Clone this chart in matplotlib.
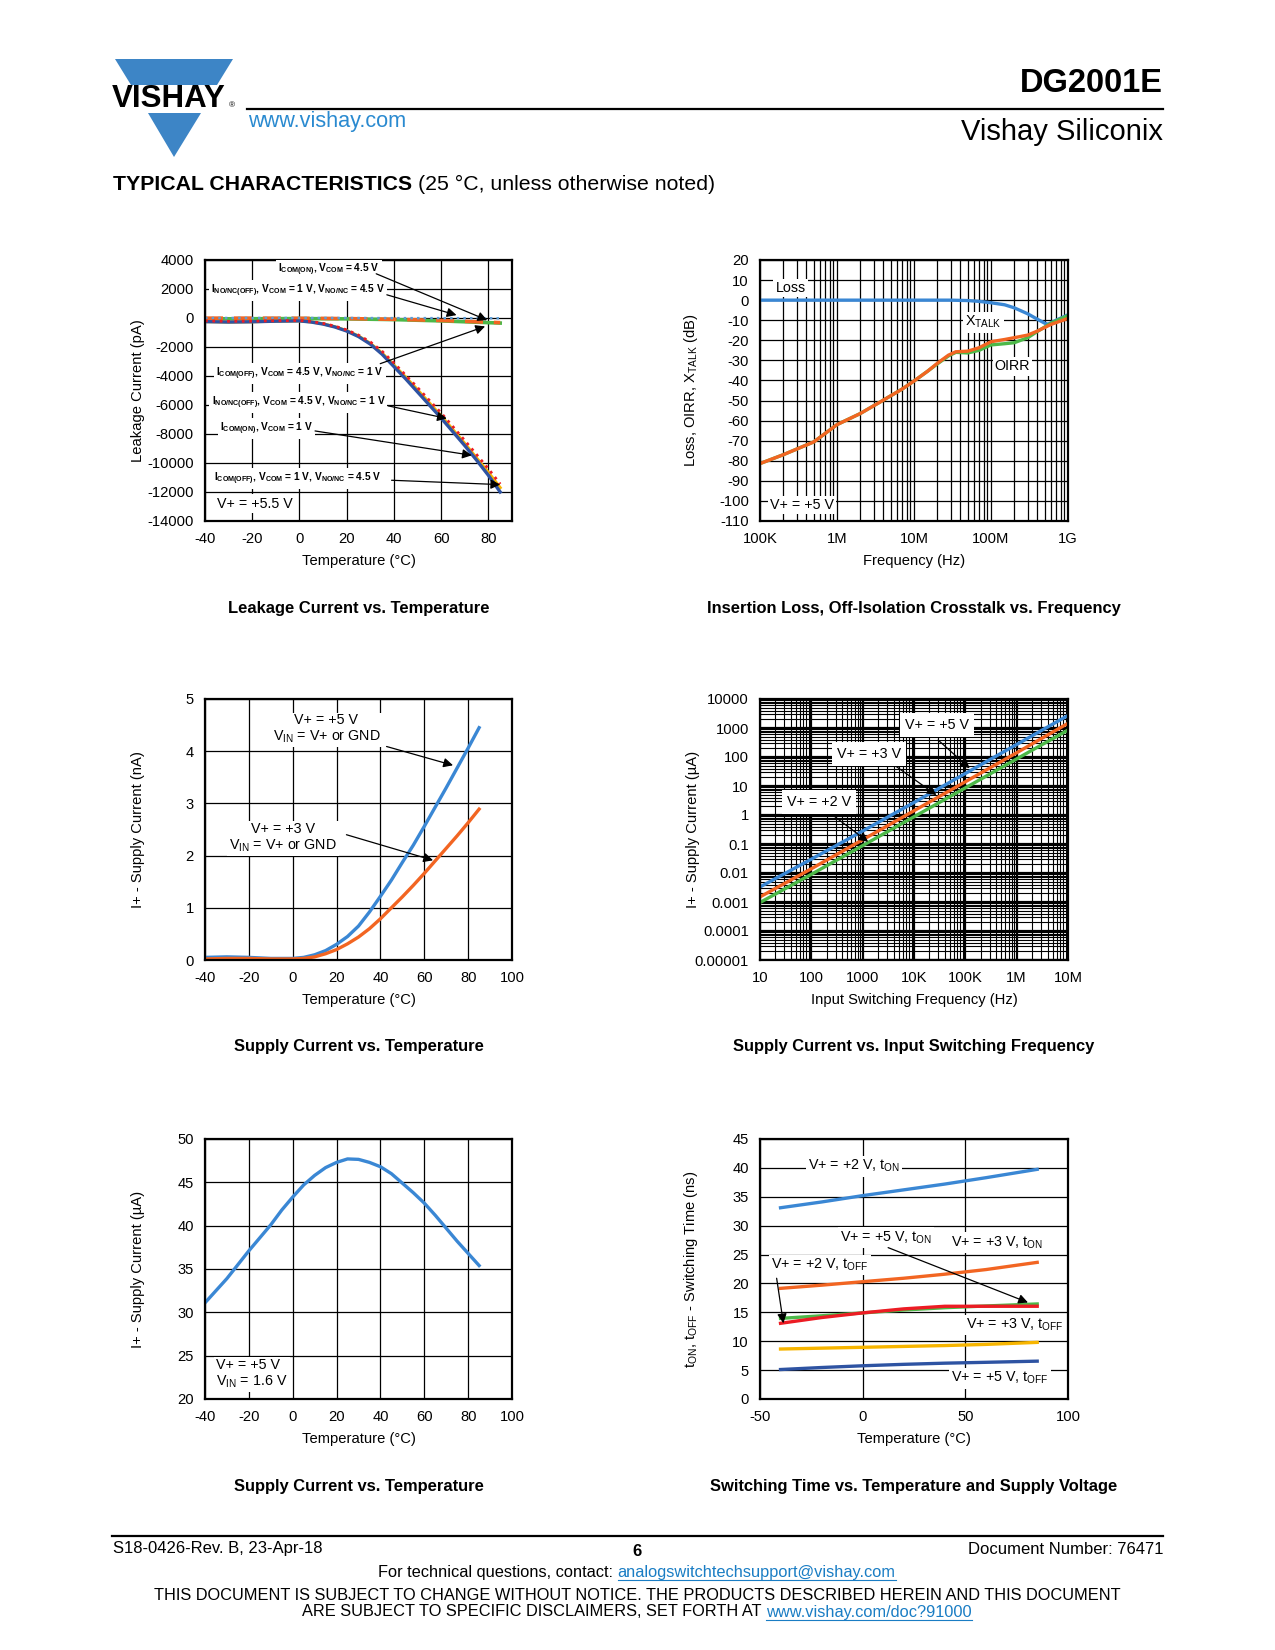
import matplotlib.pyplot as plt
from matplotlib.patches import Polygon
from matplotlib.ticker import LogLocator, FixedLocator, FixedFormatter, NullFormatter

plt.rcParams['font.family'] = ['Liberation Sans', 'DejaVu Sans']
plt.rcParams['mathtext.fontset'] = 'custom'
plt.rcParams['mathtext.rm'] = 'Liberation Sans'
plt.rcParams['mathtext.it'] = 'Liberation Sans:italic'
plt.rcParams['mathtext.bf'] = 'Liberation Sans:bold'
plt.rcParams['axes.unicode_minus'] = False

W, H = 1275, 1650

# cores
AZUL = '#3a87d4'
LARANJA = '#f26522'
VERDE = '#4cb848'
VERMELHO = '#ec1c24'
AMARELO = '#f7b500'
AZUL_ESCURO = '#2e53a2'
LINK = '#1a7dc4'

# ---------------- dados ----------------
# Leakage current vs temperature (pA)
temp_fuga = [-40, -30, -20, -10, 0, 5, 10, 15, 20, 25, 30, 35, 40, 45, 50, 55, 60, 65, 70, 75, 80, 85]
fuga_azul_escuro = [-250, -280, -260, -220, -200, -280, -420, -620, -900, -1280, -1800, -2500, -3350,
                    -4200, -5100, -6000, -6900, -7850, -8800, -9800, -10850, -12000]
fuga_amarelo = [-250, -280, -260, -220, -200, -270, -400, -600, -870, -1240, -1750, -2420, -3250,
                -4080, -4950, -5850, -6750, -7700, -8650, -9650, -10650, -11700]
fuga_vermelho = [-200, -230, -220, -190, -170, -240, -370, -560, -820, -1180, -1650, -2300, -3100,
                 -3950, -4800, -5680, -6550, -7500, -8450, -9420, -10400, -11450]
temp_fuga_plana = [-40, -20, 0, 20, 40, 60, 85]
fuga_verde = [-60, -50, -40, -60, -110, -200, -350]
fuga_laranja = [-10, -10, -20, -40, -90, -170, -320]
fuga_azul = [0, 0, 0, 0, -10, -10, -20]

# Insertion loss / crosstalk vs frequency (dB)
freq_perda = [1e5, 1e6, 1e7, 3e7, 5e7, 7e7, 1e8, 1.5e8, 2e8, 3e8, 4e8, 5e8, 5.5e8, 7e8, 1e9]
perda = [0, 0, 0, 0, -0.2, -0.6, -1.3, -2.3, -3.8, -6.8, -9.5, -11.5, -12, -10, -7.3]
freq_iso = [1e5, 2e5, 5e5, 1e6, 2e6, 4e6, 7e6, 1e7, 1.5e7, 2e7, 2.8e7, 3.5e7, 5e7, 7e7,
            1e8, 1.5e8, 2e8, 3e8, 4e8, 6e8, 1e9]
oirr = [-81.4, -77, -70.6, -62, -56.5, -49.8, -44.3, -40.3, -35.4, -31.5, -27.4, -25.7, -25.4, -23.7,
        -20.7, -19.6, -18.7, -17.4, -15.4, -12.1, -9.1]
xtalk = [-81.4, -77, -70.6, -62, -56.5, -49.8, -44.3, -40.3, -35.4, -31.8, -27.8, -26, -26.3, -25,
         -22.3, -21.7, -21.2, -18.7, -15.6, -11.5, -7.7]

# Supply current vs temperature (nA)
temp_ic = [-40, -30, -20, -10, 0, 5, 10, 15, 20, 25, 30, 35, 40, 45, 50, 55, 60, 65, 70, 75, 80, 85]
ic_5v = [0.05, 0.06, 0.05, 0.03, 0.03, 0.05, 0.1, 0.18, 0.3, 0.45, 0.65, 0.92, 1.22, 1.53, 1.87,
         2.2, 2.56, 2.93, 3.3, 3.68, 4.06, 4.45]
ic_3v = [0.02, 0.03, 0.03, 0.02, 0.02, 0.03, 0.06, 0.12, 0.2, 0.31, 0.44, 0.6, 0.79, 1.0, 1.21,
         1.43, 1.66, 1.9, 2.14, 2.38, 2.63, 2.89]

# Supply current vs input switching frequency (uA)
freq_sw = [10, 100, 1e3, 1e4, 1e5, 1e6, 1e7]
isw_5v = [0.0033, 0.030, 0.28, 2.7, 27, 270, 2700]
isw_3v = [0.0015, 0.014, 0.14, 1.4, 14, 140, 1450]
isw_2v = [0.00096, 0.0090, 0.088, 0.87, 8.6, 86, 850]

# Supply current vs temperature (uA)
temp_i = [-40, -35, -30, -25, -20, -15, -10, -5, 0, 5, 10, 15, 20, 25, 30, 35, 40, 45, 50, 55,
          60, 65, 70, 75, 80, 85]
i_temp = [31.1, 32.5, 33.9, 35.5, 37.1, 38.6, 40.1, 41.8, 43.3, 44.7, 45.8, 46.7, 47.3, 47.7,
          47.65, 47.3, 46.8, 46.0, 44.9, 43.8, 42.6, 41.2, 39.7, 38.2, 36.8, 35.4]

# Switching time vs temperature (ns)
temp_t = [-40, -20, 0, 20, 40, 60, 85]
ton_2v = [33.1, 34.1, 35.2, 36.2, 37.2, 38.3, 39.75]
ton_3v = [19.15, 19.7, 20.3, 20.9, 21.6, 22.4, 23.65]
ton_5v = [13.95, 14.4, 14.9, 15.4, 15.8, 16.1, 16.45]
toff_2v = [13.1, 14.1, 14.9, 15.6, 16.05, 16.05, 16.05]
toff_3v = [8.65, 8.8, 8.95, 9.1, 9.25, 9.45, 9.8]
toff_5v = [5.1, 5.45, 5.75, 6.0, 6.2, 6.35, 6.55]

# ---------------- figura ----------------
fig = plt.figure(figsize=(W / 100, H / 100), dpi=100)
fundo = fig.add_axes([0, 0, 1, 1])
fundo.set_xlim(0, W)
fundo.set_ylim(H, 0)
fundo.axis('off')

# logo
fundo.add_patch(Polygon([[115, 59], [233, 59], [217, 85], [131, 85]], closed=True, color='#3d85c6', lw=0))
fundo.add_patch(Polygon([[148, 113], [201, 113], [174, 157]], closed=True, color='#3d85c6', lw=0))
fundo.text(112, 99, 'VISHAY', fontsize=22.5, fontweight='bold', va='center', ha='left')
fundo.text(229, 106, '®', fontsize=6, va='center', ha='left')

# cabecalho
fundo.plot([247, 1163], [109, 109], color='k', lw=1.6)
fundo.text(1163, 84, 'DG2001E', fontsize=23.5, fontweight='bold', ha='right', va='center')
fundo.text(1163, 132, 'Vishay Siliconix', fontsize=21, ha='right', va='center')
fundo.text(248, 122, 'www.vishay.com', fontsize=15.6, color='#2a8ad0', ha='left', va='center')

fig.canvas.draw()
rend = fig.canvas.get_renderer()


def partes_texto(partes, x, y, size, centro=False):
    textos = []
    for s, cor, peso, sublinhado in partes:
        t = fundo.text(0, y, s, color=cor, fontsize=size, fontweight=peso, va='center', ha='left')
        textos.append((t, cor, sublinhado))
    larg = [t.get_window_extent(rend).width for t, _, _ in textos]
    if centro:
        x = x - sum(larg) / 2
    for (t, cor, sub), w in zip(textos, larg):
        t.set_x(x)
        if sub:
            fundo.plot([x, x + w], [y + 8, y + 8], color=cor, lw=0.8)
        x += w


partes_texto([('TYPICAL CHARACTERISTICS ', 'k', 'bold', False),
              ('(25 °C, unless otherwise noted)', 'k', 'normal', False)], 113, 184, 15.3)

# rodape
fundo.plot([112, 1163], [1536, 1536], color='k', lw=1.6)
fundo.text(113, 1549, 'S18-0426-Rev. B, 23-Apr-18', fontsize=12, va='center', ha='left')
fundo.text(637, 1551, '6', fontsize=12, fontweight='bold', va='center', ha='center')
fundo.text(1163, 1549, 'Document Number: 76471', fontsize=12, va='center', ha='right')
partes_texto([('For technical questions, contact: ', 'k', 'normal', False),
              ('analogswitchtechsupport@vishay.com', LINK, 'normal', True)], 637, 1572, 11.8, centro=True)
fundo.text(637, 1595, 'THIS DOCUMENT IS SUBJECT TO CHANGE WITHOUT NOTICE. THE PRODUCTS DESCRIBED HEREIN AND THIS DOCUMENT',
           fontsize=11.8, va='center', ha='center')
partes_texto([('ARE SUBJECT TO SPECIFIC DISCLAIMERS, SET FORTH AT ', 'k', 'normal', False),
              ('www.vishay.com/doc?91000', LINK, 'normal', True)], 637, 1612, 11.8, centro=True)


def eixo(x0, y0, x1, y1, titulo, legenda_y, legenda_x):
    ax = fig.add_axes([x0 / W, 1 - y1 / H, (x1 - x0) / W, (y1 - y0) / H])
    for s in ax.spines.values():
        s.set_linewidth(1.6)
    ax.tick_params(which='both', length=0, labelsize=10.6, pad=8)
    ax.set_axisbelow(True)
    ax.set_ylabel(legenda_y, fontsize=10.6)
    ax.set_xlabel(legenda_x, fontsize=10.6)
    ax.yaxis.set_label_coords(-0.195, 0.5)
    ax.xaxis.set_label_coords(0.5, -0.125)
    fundo.text((x0 + x1) / 2, y1 + 87, titulo, fontsize=11.9, fontweight='bold', ha='center', va='center')
    return ax


seta = dict(arrowstyle='-|>', color='k', lw=0.9, mutation_scale=14, shrinkA=0, shrinkB=0)
caixa = dict(fc='white', ec='none', pad=1.5)

# ---- 1: Leakage current ----
ax1 = eixo(205, 260, 512, 521, 'Leakage Current vs. Temperature', 'Leakage Current (pA)', 'Temperature (°C)')
ax1.set_xlim(-40, 90)
ax1.set_ylim(-14000, 4000)
ax1.set_xticks(range(-40, 81, 20))
ax1.set_yticks(range(-14000, 4001, 2000))
ax1.grid(True, color='k', lw=0.9)
ax1.plot(temp_fuga_plana, fuga_verde, color=VERDE, lw=2.6)
ax1.plot(temp_fuga_plana, fuga_laranja, color=LARANJA, lw=2.6, ls=(0, (5, 3)))
ax1.plot(temp_fuga_plana, fuga_azul, color='#5b9bd5', lw=1.8, ls=':')
ax1.plot(temp_fuga, fuga_amarelo, color=AMARELO, lw=2.2)
ax1.plot(temp_fuga, fuga_azul_escuro, color=AZUL_ESCURO, lw=2.4)
ax1.plot(temp_fuga, fuga_vermelho, color=VERMELHO, lw=2, ls=':')
p = dict(fontsize=7.3, fontweight='bold', va='center', ha='left', bbox=caixa, zorder=4)
ax1.text(-9, 3310, r'I$_{\mathbf{COM(ON)}}$, V$_{\mathbf{COM}}$ = 4.5 V', **p)
ax1.text(-37.6, 1880, r'I$_{\mathbf{NO/NC(OFF)}}$, V$_{\mathbf{COM}}$ = 1 V, V$_{\mathbf{NO/NC}}$ = 4.5 V', **p)
ax1.text(-35.3, -3830, r'I$_{\mathbf{COM(OFF)}}$, V$_{\mathbf{COM}}$ = 4.5 V, V$_{\mathbf{NO/NC}}$ = 1 V', **p)
ax1.text(-37.2, -5830, r'I$_{\mathbf{NO/NC(OFF)}}$, V$_{\mathbf{COM}}$ = 4.5 V, V$_{\mathbf{NO/NC}}$ = 1 V', **p)
ax1.text(-33.6, -7625, r'I$_{\mathbf{COM(ON)}}$, V$_{\mathbf{COM}}$ = 1 V', **p)
ax1.text(-36.2, -11080, r'I$_{\mathbf{COM(OFF)}}$, V$_{\mathbf{COM}}$ = 1 V, V$_{\mathbf{NO/NC}}$ = 4.5 V', **p)
ax1.annotate('', xy=(79.5, -150), xytext=(32.5, 3050), arrowprops=seta, zorder=5)
ax1.annotate('', xy=(66.5, 200), xytext=(37, 1600), arrowprops=seta, zorder=5)
ax1.annotate('', xy=(78.6, -580), xytext=(34.2, -3150), arrowprops=seta, zorder=5)
ax1.annotate('', xy=(62.4, -6930), xytext=(37.6, -6060), arrowprops=seta, zorder=5)
ax1.annotate('', xy=(73, -9470), xytext=(6.6, -7790), arrowprops=seta, zorder=5)
ax1.annotate('', xy=(85, -11490), xytext=(39, -11190), arrowprops=seta, zorder=5)
ax1.text(-35, -12800, 'V+ = +5.5 V', fontsize=10.3, va='center', ha='left', bbox=caixa, zorder=4)

# ---- 2: Insertion loss ----
ax2 = eixo(760, 260, 1068, 521, 'Insertion Loss, Off-Isolation Crosstalk vs. Frequency',
           r'Loss, OIRR, X$_{\mathrm{TALK}}$ (dB)', 'Frequency (Hz)')
ax2.set_xscale('log')
ax2.set_xlim(1e5, 1e9)
ax2.set_ylim(-110, 20)
ax2.set_yticks(range(-110, 21, 10))
ax2.xaxis.set_major_locator(FixedLocator([1e5, 1e6, 1e7, 1e8, 1e9]))
ax2.xaxis.set_major_formatter(FixedFormatter(['100K', '1M', '10M', '100M', '1G']))
ax2.xaxis.set_minor_locator(LogLocator(base=10, subs=range(2, 10)))
ax2.xaxis.set_minor_formatter(NullFormatter())
ax2.grid(True, which='both', axis='x', color='k', lw=0.9)
ax2.grid(True, which='major', axis='y', color='k', lw=0.9)
ax2.plot(freq_perda, perda, color=AZUL, lw=2.4)
ax2.plot(freq_iso, xtalk, color=VERDE, lw=2.4)
ax2.plot(freq_iso, oirr, color=LARANJA, lw=2.4)
ax2.text(10 ** 5.2, 6, 'Loss', fontsize=10.3, va='center', ha='left', bbox=caixa)
ax2.text(10 ** 7.66, -11, r'X$_{\mathrm{TALK}}$', fontsize=10.3, va='center', ha='left', bbox=caixa)
ax2.text(10 ** 8.05, -33, 'OIRR', fontsize=10.3, va='center', ha='left', bbox=caixa)
ax2.text(10 ** 5.13, -102, 'V+ = +5 V', fontsize=10.3, va='center', ha='left', bbox=caixa)

# ---- 3: Supply current (nA) ----
ax3 = eixo(205, 699, 512, 960, 'Supply Current vs. Temperature', 'I+ - Supply Current (nA)', 'Temperature (°C)')
ax3.set_xlim(-40, 100)
ax3.set_ylim(0, 5)
ax3.set_xticks(range(-40, 101, 20))
ax3.grid(True, color='k', lw=0.9)
ax3.plot(temp_ic, ic_5v, color=AZUL, lw=2.4)
ax3.plot(temp_ic, ic_3v, color=LARANJA, lw=2.4)
q = dict(fontsize=10.3, va='center', ha='center', bbox=caixa, zorder=4, linespacing=1.1)
ax3.text(15.4, 4.42, 'V+ = +5 V\n' + r'V$_{\mathrm{IN}}$ = V+ or GND', **q)
ax3.text(-4.3, 2.34, 'V+ = +3 V\n' + r'V$_{\mathrm{IN}}$ = V+ or GND', **q)
ax3.annotate('', xy=(73.1, 3.73), xytext=(42.8, 4.09), arrowprops=seta, zorder=5)
ax3.annotate('', xy=(64, 1.91), xytext=(24.5, 2.40), arrowprops=seta, zorder=5)

# ---- 4: Supply current vs switching frequency ----
ax4 = eixo(760, 699, 1068, 960, 'Supply Current vs. Input Switching Frequency',
           'I+ - Supply Current (µA)', 'Input Switching Frequency (Hz)')
ax4.set_xscale('log')
ax4.set_yscale('log')
ax4.set_xlim(10, 1e7)
ax4.set_ylim(1e-5, 1e4)
ax4.xaxis.set_major_locator(FixedLocator(freq_sw))
ax4.xaxis.set_major_formatter(FixedFormatter(['10', '100', '1000', '10K', '100K', '1M', '10M']))
ytk = [1e-5, 1e-4, 1e-3, 1e-2, 1e-1, 1, 10, 100, 1e3, 1e4]
ax4.yaxis.set_major_locator(FixedLocator(ytk))
ax4.yaxis.set_major_formatter(FixedFormatter(['0.00001', '0.0001', '0.001', '0.01', '0.1', '1', '10',
                                              '100', '1000', '10000']))
for eixo_ in (ax4.xaxis, ax4.yaxis):
    eixo_.set_minor_locator(LogLocator(base=10, subs=range(2, 10), numticks=20))
    eixo_.set_minor_formatter(NullFormatter())
ax4.grid(True, which='major', color='k', lw=1.6)
ax4.grid(True, which='minor', color='k', lw=0.8)
ax4.plot(freq_sw, isw_2v, color=VERDE, lw=2.4)
ax4.plot(freq_sw, isw_3v, color=LARANJA, lw=2.4)
ax4.plot(freq_sw, isw_5v, color=AZUL, lw=2.4)
b4 = dict(fc='white', ec='none', pad=3.5)
ax4.text(10 ** 3.82, 10 ** 3.1, 'V+ = +5 V', fontsize=10.3, va='center', ha='left', bbox=b4, zorder=4)
ax4.text(10 ** 2.5, 10 ** 2.1, 'V+ = +3 V', fontsize=10.3, va='center', ha='left', bbox=b4, zorder=4)
ax4.text(10 ** 1.52, 10 ** 0.456, 'V+ = +2 V', fontsize=10.3, va='center', ha='left', bbox=b4, zorder=4)
ax4.annotate('', xy=(10 ** 5.085, 10 ** 1.61), xytext=(10 ** 4.47, 10 ** 2.585), arrowprops=seta, zorder=5)
ax4.annotate('', xy=(10 ** 4.437, 10 ** 0.686), xytext=(10 ** 3.66, 10 ** 1.664), arrowprops=seta, zorder=5)
ax4.annotate('', xy=(10 ** 3.107, 10 ** -0.925), xytext=(10 ** 2.459, 10 ** -0.06), arrowprops=seta, zorder=5)

# ---- 5: Supply current (uA) vs temperature ----
ax5 = eixo(205, 1139, 512, 1399, 'Supply Current vs. Temperature', 'I+ - Supply Current (µA)', 'Temperature (°C)')
ax5.set_xlim(-40, 100)
ax5.set_ylim(20, 50)
ax5.set_xticks(range(-40, 101, 20))
ax5.set_yticks(range(20, 51, 5))
ax5.grid(True, color='k', lw=0.9)
ax5.plot(temp_i, i_temp, color=AZUL, lw=2.4)
ax5.text(-35, 22.9, 'V+ = +5 V\n' + r'V$_{\mathrm{IN}}$ = 1.6 V', fontsize=10.3, va='center', ha='left',
         linespacing=1.1, bbox=caixa, zorder=4)

# ---- 6: Switching time ----
ax6 = eixo(760, 1139, 1068, 1399, 'Switching Time vs. Temperature and Supply Voltage',
           r't$_{\mathrm{ON}}$, t$_{\mathrm{OFF}}$ - Switching Time (ns)', 'Temperature (°C)')
ax6.set_xlim(-50, 100)
ax6.set_ylim(0, 45)
ax6.set_xticks([-50, 0, 50, 100])
ax6.set_yticks(range(0, 46, 5))
ax6.grid(True, color='k', lw=0.9)
ax6.plot(temp_t, ton_2v, color=AZUL, lw=2.4)
ax6.plot(temp_t, ton_3v, color=LARANJA, lw=2.4)
ax6.plot(temp_t, ton_5v, color=VERDE, lw=2.4)
ax6.plot(temp_t, toff_2v, color=VERMELHO, lw=2.4)
ax6.plot(temp_t, toff_3v, color=AMARELO, lw=2.4)
ax6.plot(temp_t, toff_5v, color=AZUL_ESCURO, lw=2.4)
r6 = dict(fontsize=10.3, va='center', ha='left', bbox=caixa, zorder=4)
ax6.text(-26.5, 40.3, r'V+ = +2 V, t$_{\mathrm{ON}}$', **r6)
ax6.text(-11.1, 27.9, r'V+ = +5 V, t$_{\mathrm{ON}}$', **r6)
ax6.text(43.2, 27.1, r'V+ = +3 V, t$_{\mathrm{ON}}$', **r6)
ax6.text(-44.6, 23.2, r'V+ = +2 V, t$_{\mathrm{OFF}}$', **r6)
ax6.text(50.5, 12.8, r'V+ = +3 V, t$_{\mathrm{OFF}}$', **r6)
ax6.text(43.2, 3.6, r'V+ = +5 V, t$_{\mathrm{OFF}}$', **r6)
ax6.annotate('', xy=(80.5, 16.7), xytext=(12.4, 26.2), arrowprops=seta, zorder=5)
ax6.annotate('', xy=(-38.6, 13.1), xytext=(-41.9, 20.9), arrowprops=seta, zorder=5)

plt.savefig('out.png', dpi=100)
